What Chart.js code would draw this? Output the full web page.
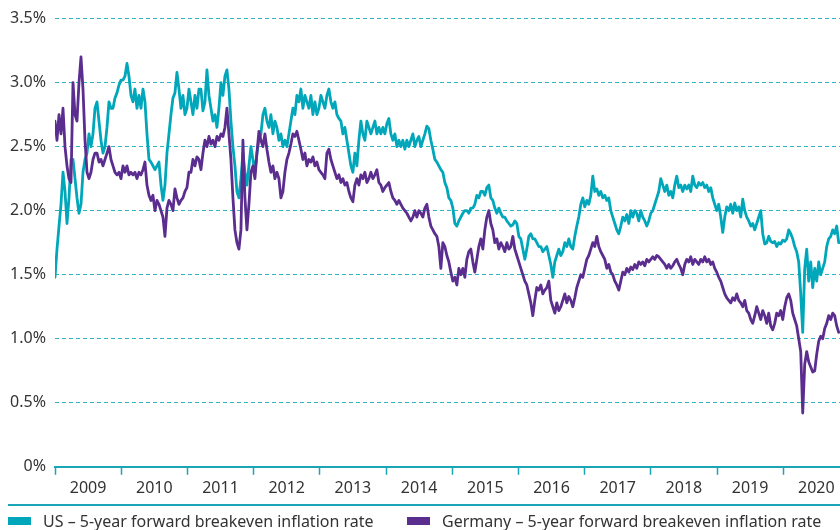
<!DOCTYPE html>
<html>
<head>
<meta charset="utf-8">
<script src="https://cdn.jsdelivr.net/npm/chart.js@4/dist/chart.umd.min.js"></script>
<style>
  html, body { margin: 0; padding: 0; background: #fff; }
  #wrap { position: relative; width: 840px; height: 530px; overflow: hidden; font-family: 'Noto Sans', sans-serif; }
  #chart { position: absolute; left: 0; top: 0; }
  #legend { position: absolute; left: 8px; right: 0; top: 504px; height: 26px; border-top: 2px solid #1ba6b7; }
  .item { position: absolute; top: 4px; display: flex; align-items: center; font-size: 16px; color: #333; white-space: nowrap; }
  .item .box { width: 23px; height: 8px; margin-right: 12px; }
</style>
</head>
<body>
<div id="wrap">
  <canvas id="chart" width="840" height="530"></canvas>
  <div id="legend"></div>
</div>
<script>
// ---------- DATA ----------
// readings sampled on a regular grid, first point = start of 2009
const startYear = 2009;
const stepYears = 0.0302;

const seriesNames = [
  'US \u2013 5-year forward breakeven inflation rate',
  'Germany \u2013 5-year forward breakeven inflation rate'
];

const usValues = [
  1.48,1.7,1.88,2.05,2.3,2.15,1.9,2.1,2.4,2.4,
  2.25,2.1,1.98,2.05,2.3,2.4,2.45,2.6,2.5,2.6,
  2.8,2.85,2.7,2.55,2.45,2.5,2.65,2.85,2.8,2.8,
  2.88,2.92,2.98,3.02,3.02,3.05,3.15,3.05,2.9,2.85,
  2.95,2.8,2.9,2.8,2.95,2.85,2.6,2.4,2.38,2.35,
  2.32,2.35,2.38,2.2,2.08,2.2,2.45,2.6,2.75,2.88,
  2.92,3.08,2.95,2.8,2.9,2.75,2.8,2.95,2.85,2.75,
  2.9,2.8,2.95,2.95,2.78,2.85,3.1,2.9,2.8,2.7,
  2.75,2.65,2.8,3.0,2.9,3.05,3.1,2.95,2.7,2.5,
  2.35,2.15,2.1,2.25,2.45,2.3,2.2,2.35,2.5,2.4,
  2.3,2.45,2.55,2.6,2.75,2.8,2.7,2.65,2.75,2.6,
  2.7,2.65,2.55,2.6,2.5,2.55,2.5,2.6,2.7,2.8,
  2.75,2.9,2.85,2.95,2.8,2.9,2.85,2.8,2.9,2.75,
  2.85,2.75,2.8,2.9,2.85,2.8,2.9,2.95,2.85,2.8,
  2.85,2.75,2.72,2.7,2.6,2.65,2.55,2.45,2.35,2.3,
  2.45,2.35,2.55,2.7,2.6,2.55,2.7,2.65,2.6,2.65,
  2.7,2.6,2.65,2.6,2.65,2.6,2.68,2.72,2.6,2.55,
  2.6,2.5,2.55,2.5,2.55,2.48,2.55,2.5,2.55,2.6,
  2.5,2.55,2.58,2.5,2.55,2.6,2.66,2.64,2.55,2.48,
  2.4,2.38,2.35,2.32,2.3,2.22,2.18,2.1,2.08,2.02,
  1.9,1.88,1.92,1.95,1.98,2.0,2.0,1.98,2.02,2.02,
  2.05,2.12,2.1,2.15,2.15,2.12,2.18,2.2,2.1,2.08,
  2.02,1.98,2.02,1.98,1.95,1.95,1.92,1.9,1.88,1.89,
  1.92,1.9,1.8,1.78,1.7,1.62,1.7,1.8,1.82,1.78,
  1.78,1.75,1.72,1.72,1.68,1.7,1.72,1.65,1.58,1.48,
  1.6,1.65,1.7,1.65,1.68,1.75,1.72,1.78,1.72,1.7,
  1.8,1.88,1.95,2.05,2.1,2.03,2.08,2.05,2.12,2.27,
  2.15,2.17,2.12,2.15,2.1,2.12,2.08,2.1,2.0,1.95,
  1.9,1.85,1.82,1.88,1.95,1.92,1.97,1.9,2.0,1.95,
  2.0,1.98,1.92,2.0,1.95,1.92,1.88,1.92,1.98,2.0,
  2.05,2.1,2.15,2.25,2.2,2.15,2.2,2.12,2.15,2.1,
  2.2,2.27,2.18,2.2,2.15,2.2,2.17,2.2,2.15,2.27,
  2.2,2.18,2.22,2.2,2.22,2.18,2.2,2.15,2.18,2.1,
  2.05,2.0,2.05,1.95,1.83,1.95,2.03,2.0,2.05,1.98,
  2.06,2.0,2.03,1.95,2.09,2.0,1.95,1.92,1.88,1.9,
  1.85,1.9,1.95,2.0,1.82,1.74,1.75,1.8,1.76,1.75,
  1.76,1.72,1.75,1.74,1.77,1.76,1.78,1.85,1.82,1.78,
  1.72,1.68,1.6,1.35,1.05,1.55,1.7,1.45,1.6,1.4,
  1.55,1.45,1.6,1.5,1.55,1.6,1.72,1.78,1.8,1.85,
  1.82,1.88,1.75
];

const germanyValues = [
  2.7,2.55,2.75,2.6,2.8,2.5,2.35,2.25,2.22,3.0,
  2.75,2.7,3.0,3.2,2.95,2.55,2.3,2.25,2.3,2.4,
  2.45,2.45,2.38,2.4,2.35,2.4,2.45,2.5,2.4,2.35,
  2.3,2.28,2.3,2.25,2.35,2.3,2.35,2.28,2.3,2.28,
  2.3,2.25,2.3,2.28,2.32,2.38,2.2,2.12,2.08,2.12,
  2.0,2.08,2.05,2.0,1.95,1.8,2.02,2.08,2.05,2.0,
  2.17,2.1,2.05,2.08,2.1,2.15,2.18,2.3,2.3,2.4,
  2.35,2.42,2.4,2.32,2.45,2.55,2.5,2.58,2.52,2.55,
  2.5,2.58,2.55,2.6,2.58,2.65,2.8,2.6,2.4,2.1,
  1.85,1.75,1.7,1.85,2.55,2.1,1.85,2.05,2.3,2.35,
  2.25,2.45,2.62,2.55,2.5,2.6,2.48,2.38,2.3,2.35,
  2.25,2.3,2.25,2.1,2.15,2.3,2.4,2.45,2.52,2.6,
  2.58,2.62,2.55,2.48,2.4,2.45,2.35,2.4,2.38,2.42,
  2.35,2.38,2.32,2.3,2.28,2.25,2.45,2.48,2.4,2.35,
  2.3,2.25,2.28,2.22,2.25,2.2,2.22,2.15,2.1,2.07,
  2.2,2.25,2.2,2.28,2.25,2.3,2.22,2.25,2.3,2.25,
  2.28,2.32,2.22,2.2,2.15,2.18,2.2,2.22,2.15,2.1,
  2.08,2.05,2.08,2.05,2.02,2.0,1.98,1.95,1.92,1.95,
  2.0,1.95,2.0,1.98,1.95,2.02,2.05,1.95,1.88,1.85,
  1.82,1.8,1.72,1.55,1.75,1.72,1.65,1.6,1.52,1.45,
  1.48,1.42,1.55,1.5,1.55,1.48,1.62,1.68,1.7,1.6,
  1.52,1.62,1.72,1.78,1.7,1.85,1.95,2.0,1.9,1.85,
  1.75,1.78,1.7,1.75,1.72,1.68,1.75,1.7,1.72,1.8,
  1.7,1.65,1.6,1.55,1.5,1.45,1.42,1.35,1.28,1.18,
  1.3,1.4,1.38,1.42,1.35,1.38,1.4,1.45,1.3,1.25,
  1.2,1.28,1.22,1.25,1.3,1.35,1.28,1.33,1.3,1.25,
  1.32,1.4,1.45,1.5,1.48,1.55,1.62,1.65,1.7,1.75,
  1.72,1.8,1.72,1.68,1.65,1.62,1.55,1.58,1.52,1.5,
  1.45,1.42,1.38,1.45,1.52,1.5,1.55,1.52,1.56,1.54,
  1.58,1.55,1.6,1.58,1.6,1.57,1.62,1.6,1.62,1.64,
  1.62,1.65,1.64,1.62,1.6,1.58,1.55,1.58,1.55,1.57,
  1.6,1.62,1.58,1.55,1.5,1.58,1.62,1.6,1.64,1.58,
  1.62,1.6,1.58,1.62,1.6,1.64,1.6,1.62,1.58,1.6,
  1.55,1.52,1.48,1.45,1.4,1.35,1.32,1.3,1.28,1.32,
  1.3,1.35,1.3,1.28,1.25,1.3,1.22,1.2,1.15,1.12,
  1.18,1.25,1.2,1.15,1.22,1.18,1.12,1.2,1.1,1.07,
  1.12,1.2,1.18,1.22,1.15,1.25,1.32,1.35,1.3,1.2,
  1.15,1.1,1.0,0.9,0.42,0.8,0.9,0.82,0.78,0.74,
  0.75,0.88,0.98,1.02,1.0,1.08,1.12,1.18,1.15,1.2,
  1.18,1.1,1.05
];

const yearLabels = [2009, 2010, 2011, 2012, 2013, 2014, 2015, 2016, 2017, 2018, 2019, 2020];
const yTicks = [0, 0.5, 1, 1.5, 2, 2.5, 3, 3.5];

// ---------- STYLE ----------
const TEAL = '#00a6b9';
const PURPLE = '#5a2d8e';
const GRID = '#2fb3c4';
const AXIS = '#1ba6b7';

Chart.defaults.font.family = "'Noto Sans', sans-serif";
Chart.defaults.font.size = 16;
Chart.defaults.color = '#333';

const toPoints = (vals) => vals.map((v, i) => ({ x: startYear + i * stepYears, y: v }));
const xMax = startYear + 785 / 66.2;

const chart = new Chart(document.getElementById('chart'), {
  type: 'line',
  data: {
    datasets: [
      { label: seriesNames[0], data: toPoints(usValues), borderColor: TEAL, backgroundColor: TEAL, borderWidth: 2.8, order: 1 },
      { label: seriesNames[1], data: toPoints(germanyValues), borderColor: PURPLE, backgroundColor: PURPLE, borderWidth: 2.8, order: 0 }
    ]
  },
  options: {
    responsive: false,
    animation: false,
    devicePixelRatio: 1,
    layout: { padding: { top: 13, right: 0, bottom: 28, left: 0 } },
    elements: { point: { radius: 0 }, line: { tension: 0, borderJoinStyle: 'round', borderCapStyle: 'round' } },
    plugins: { legend: { display: false }, tooltip: { enabled: false } },
    scales: {
      x: {
        type: 'linear',
        min: startYear,
        max: xMax,
        afterBuildTicks: (scale) => {
          const t = [];
          yearLabels.forEach(y => {
            t.push({ value: y });
            if (y + 0.5 <= scale.max) t.push({ value: y + 0.5 });
          });
          scale.ticks = t;
        },
        ticks: {
          autoSkip: false,
          maxRotation: 0,
          padding: 4,
          callback: (v) => Number.isInteger(v) ? '' : String(Math.floor(v))
        },
        grid: {
          drawOnChartArea: false,
          drawTicks: true,
          tickLength: 8,
          tickWidth: 1.5,
          tickColor: (ctx) => (ctx.tick && Number.isInteger(ctx.tick.value)) ? AXIS : 'rgba(0,0,0,0)'
        },
        border: { display: true, color: AXIS, width: 2 }
      },
      y: {
        min: 0,
        max: 3.5,
        afterBuildTicks: (scale) => { scale.ticks = yTicks.map(v => ({ value: v })); },
        afterFit: (scale) => { scale.width = 55; },
        ticks: {
          padding: 9,
          callback: (v) => v === 0 ? '0%' : v.toFixed(1) + '%'
        },
        grid: { color: GRID, lineWidth: 1, drawTicks: false },
        border: { display: false, dash: [4, 3] }
      }
    }
  }
});

// ---------- LEGEND ----------
const legend = document.getElementById('legend');
const legendLeft = [0, 399];
chart.data.datasets.forEach((d, i) => {
  const item = document.createElement('div');
  item.className = 'item';
  item.style.left = legendLeft[i] + 'px';
  item.innerHTML = `<span class="box" style="background:${d.borderColor}"></span><span>${d.label}</span>`;
  legend.appendChild(item);
});
</script>
</body>
</html>
